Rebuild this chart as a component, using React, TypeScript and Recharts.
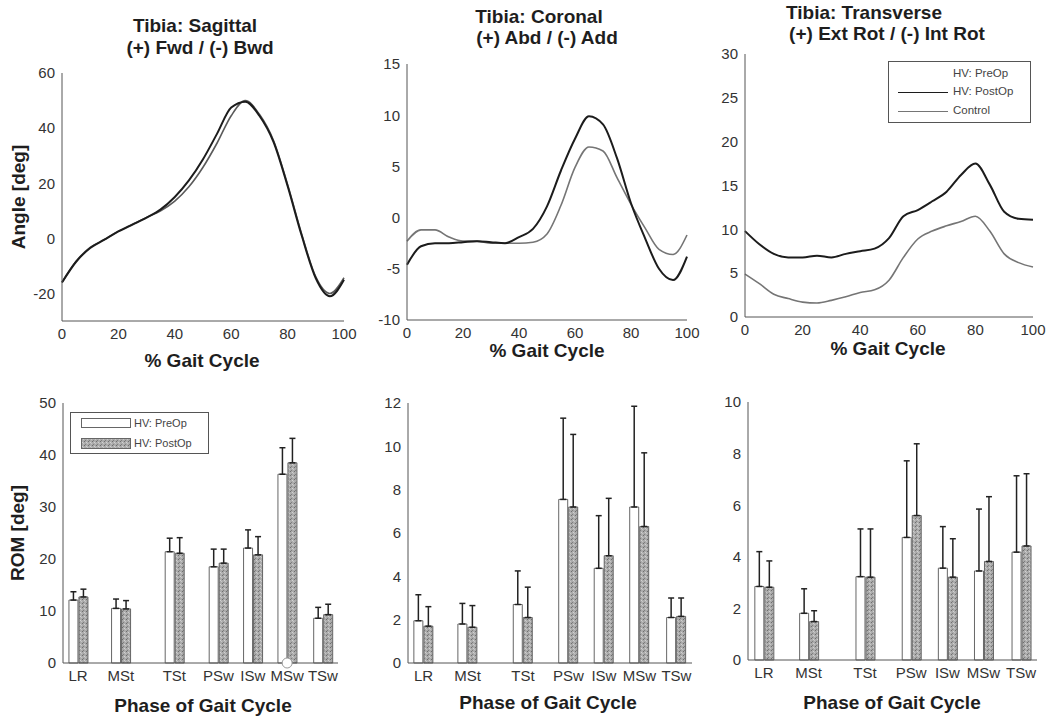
import React from 'react';
import { LineChart, Line, ComposedChart, Bar, ErrorBar, XAxis, YAxis, ReferenceDot } from 'recharts';

const FONT = '"Liberation Sans", Arial, Helvetica, sans-serif';

// % gait cycle sample points for the kinematic curves
const gaitPct = [0, 5, 10, 15, 20, 25, 30, 35, 40, 45, 50, 55, 60, 65, 70, 75, 80, 85, 90, 95, 100];

const sagittalPostOp = [-16, -8.5, -3.5, -0.5, 2.5, 5, 7.5, 10.5, 15, 21, 28.7, 38, 47.5, 49.6, 44.5, 35, 19, 1, -14.5, -21, -15];
const sagittalControl = [-16, -8.3, -3.3, -0.5, 2.6, 5.1, 7.6, 10, 13.5, 18.7, 25.8, 34.6, 44.5, 50, 45, 35.5, 19.5, 1.5, -14, -20, -14.3];
const coronalPostOp = [-4.6, -2.8, -2.5, -2.5, -2.4, -2.3, -2.4, -2.5, -1.9, -1.1, 1.1, 4.6, 7.7, 9.9, 9.1, 5.8, 1.4, -2, -5, -6.1, -3.8];
const coronalControl = [-2.3, -1.2, -1.2, -1.9, -2.3, -2.3, -2.5, -2.5, -2.5, -2.4, -1.6, 1.2, 4.9, 6.9, 6.5, 3.9, 1.3, -1, -3.1, -3.6, -1.7];
const transversePostOp = [9.8, 8.3, 7.2, 6.8, 6.8, 7.0, 6.8, 7.2, 7.5, 7.8, 9.0, 11.5, 12.2, 13.2, 14.3, 16.2, 17.5, 15.1, 12.0, 11.2, 11.1];
const transverseControl = [4.9, 3.8, 2.6, 2.1, 1.7, 1.6, 1.9, 2.3, 2.8, 3.1, 4.2, 6.8, 8.9, 9.8, 10.4, 10.9, 11.5, 9.8, 7.2, 6.2, 5.7];

// phases of gait, placed at their mid % of the cycle
const phases = ['LR', 'MSt', 'TSt', 'PSw', 'ISw', 'MSw', 'TSw'];
const phasePos = [5.5, 21, 40.5, 56.5, 69, 81.5, 94.5];

// ROM per phase (mean, sd)
const sagPre = [12.1, 10.5, 21.4, 18.5, 22.1, 36.3, 8.6];
const sagPreSd = [1.6, 1.8, 2.6, 3.4, 3.5, 5.1, 2.1];
const sagPost = [12.7, 10.4, 21.1, 19.2, 20.8, 38.5, 9.3];
const sagPostSd = [1.5, 1.6, 3.0, 2.7, 3.5, 4.7, 2.0];
const sagMarked = ['MSw'];

const corPre = [1.95, 1.8, 2.7, 7.55, 4.37, 7.2, 2.1];
const corPreSd = [1.2, 0.95, 1.55, 3.75, 2.43, 4.65, 0.9];
const corPost = [1.7, 1.65, 2.1, 7.2, 4.95, 6.3, 2.15];
const corPostSd = [0.9, 1.0, 1.4, 3.35, 2.65, 3.4, 0.85];

const traPre = [2.85, 1.81, 3.23, 4.75, 3.56, 3.45, 4.18];
const traPreSd = [1.35, 0.95, 1.85, 2.97, 1.61, 2.4, 2.96];
const traPost = [2.82, 1.49, 3.21, 5.6, 3.21, 3.82, 4.42];
const traPostSd = [1.02, 0.42, 1.87, 2.78, 1.49, 2.51, 2.8];

type Box = { L: number; T: number; R: number; B: number };
const PAD = { left: 45, top: 8, right: 16, bottom: 32 };

const frame = (b: Box) => ({
  style: { position: 'absolute' as const, left: b.L - PAD.left, top: b.T - PAD.top },
  width: b.R - b.L + PAD.left + PAD.right,
  height: b.B - b.T + PAD.top + PAD.bottom,
});

const axisProps = {
  tickLine: false,
  axisLine: { stroke: '#555', strokeWidth: 1 },
  tick: { fill: '#333', fontSize: 15, fontFamily: FONT },
  tickSize: 4,
  tickMargin: 3,
  interval: 0 as const,
};

const Speckle = ({ id }: { id: string }) => (
  <pattern id={id} width="4" height="4" patternUnits="userSpaceOnUse">
    <rect width="4" height="4" fill="#ababab" />
    <rect x="0" y="0" width="1" height="1" fill="#6e6e6e" />
    <rect x="2" y="1" width="1" height="1" fill="#d2d2d2" />
    <rect x="1" y="3" width="1" height="1" fill="#7e7e7e" />
    <rect x="3" y="2" width="1" height="1" fill="#c6c6c6" />
  </pattern>
);

const LinePanel: React.FC<{ box: Box; post: number[]; control: number[]; domain: [number, number]; ticks: number[]; controlColor: string }> = ({ box, post, control, domain, ticks, controlColor }) => {
  const f = frame(box);
  const rows = gaitPct.map((x, i) => ({ x, post: post[i], control: control[i] }));
  return (
    <div style={f.style}>
      <LineChart width={f.width} height={f.height} data={rows} margin={{ top: PAD.top, right: PAD.right, bottom: 0, left: 0 }}>
        <XAxis type="number" dataKey="x" domain={[0, 100]} ticks={[0, 20, 40, 60, 80, 100]} height={PAD.bottom} {...axisProps} />
        <YAxis type="number" domain={domain} ticks={ticks} width={PAD.left} {...axisProps} />
        <Line dataKey="control" type="monotone" stroke={controlColor} strokeWidth={1.6} dot={false} isAnimationActive={false} />
        <Line dataKey="post" type="monotone" stroke="#1c1c1c" strokeWidth={2} dot={false} isAnimationActive={false} />
      </LineChart>
    </div>
  );
};

const BarPanel: React.FC<{ id: string; box: Box; pre: number[]; preSd: number[]; post: number[]; postSd: number[]; domain: [number, number]; ticks: number[]; marked?: string[] }> = ({ id, box, pre, preSd, post, postSd, domain, ticks, marked = [] }) => {
  const f = frame(box);
  const rows = phases.map((p, i) => ({ x: phasePos[i], pre: pre[i], preErr: [0, preSd[i]], post: post[i], postErr: [0, postSd[i]] }));
  return (
    <div style={f.style}>
      <ComposedChart width={f.width} height={f.height} data={rows} barSize={9} barGap={1} margin={{ top: PAD.top, right: PAD.right, bottom: 0, left: 0 }}>
        <defs>
          <Speckle id={id} />
        </defs>
        <XAxis type="number" dataKey="x" domain={[0, 100]} ticks={phasePos} tickFormatter={(v: number) => phases[phasePos.indexOf(v)]} height={PAD.bottom} {...axisProps} />
        <YAxis type="number" domain={domain} ticks={ticks} width={PAD.left} {...axisProps} />
        <Bar dataKey="pre" fill="#ffffff" stroke="#666" strokeWidth={1} isAnimationActive={false}>
          <ErrorBar dataKey="preErr" direction="y" width={3} stroke="#222" strokeWidth={1.5} />
        </Bar>
        <Bar dataKey="post" fill={`url(#${id})`} stroke="#666" strokeWidth={1} isAnimationActive={false}>
          <ErrorBar dataKey="postErr" direction="y" width={3} stroke="#222" strokeWidth={1.5} />
        </Bar>
        {marked.map((p) => (
          <ReferenceDot key={p} x={phasePos[phases.indexOf(p)]} y={0} r={5} fill="#fff" stroke="#999" ifOverflow="visible" />
        ))}
      </ComposedChart>
    </div>
  );
};

const Txt: React.FC<{ x: number; y: number; size?: number; bold?: boolean; rotate?: boolean; children: React.ReactNode }> = ({ x, y, size = 19, bold = true, rotate = false, children }) => (
  <div
    style={{
      position: 'absolute',
      left: x,
      top: y,
      transform: `translate(-50%, -50%)${rotate ? ' rotate(-90deg)' : ''}`,
      whiteSpace: 'nowrap',
      fontFamily: FONT,
      fontSize: size,
      fontWeight: bold ? 700 : 400,
      color: '#1e1e1e',
      lineHeight: 1,
    }}
  >
    {children}
  </div>
);

const legendText: React.CSSProperties = { position: 'absolute', fontFamily: FONT, fontSize: 11.5, color: '#444', lineHeight: 1, whiteSpace: 'nowrap' };

const App: React.FC = () => (
  <div style={{ position: 'absolute', left: 0, top: 0, width: 1050, height: 725, background: '#fff', overflow: 'hidden' }}>
    {/* top row: kinematic curves */}
    <LinePanel box={{ L: 62, T: 73, R: 344, B: 321 }} post={sagittalPostOp} control={sagittalControl} domain={[-30, 60]} ticks={[-20, 0, 20, 40, 60]} controlColor="#5a5a5a" />
    <LinePanel box={{ L: 407, T: 64, R: 687, B: 320 }} post={coronalPostOp} control={coronalControl} domain={[-10, 15]} ticks={[-10, -5, 0, 5, 10, 15]} controlColor="#757575" />
    <LinePanel box={{ L: 745, T: 54, R: 1033, B: 317 }} post={transversePostOp} control={transverseControl} domain={[0, 30]} ticks={[0, 5, 10, 15, 20, 25, 30]} controlColor="#757575" />

    {/* bottom row: ROM per phase */}
    <BarPanel id="spk-sag" box={{ L: 63, T: 403, R: 338, B: 663 }} pre={sagPre} preSd={sagPreSd} post={sagPost} postSd={sagPostSd} domain={[0, 50]} ticks={[0, 10, 20, 30, 40, 50]} marked={sagMarked} />
    <BarPanel id="spk-cor" box={{ L: 408, T: 403, R: 692, B: 663 }} pre={corPre} preSd={corPreSd} post={corPost} postSd={corPostSd} domain={[0, 12]} ticks={[0, 2, 4, 6, 8, 10, 12]} />
    <BarPanel id="spk-tra" box={{ L: 748, T: 402, R: 1037, B: 660 }} pre={traPre} preSd={traPreSd} post={traPost} postSd={traPostSd} domain={[0, 10]} ticks={[0, 2, 4, 6, 8, 10]} />

    {/* titles */}
    <Txt x={195} y={25}>Tibia: Sagittal</Txt>
    <Txt x={200} y={47}>(+) Fwd / (-) Bwd</Txt>
    <Txt x={539} y={16}>Tibia: Coronal</Txt>
    <Txt x={547} y={37}>(+) Abd / (-) Add</Txt>
    <Txt x={864} y={12}>Tibia: Transverse</Txt>
    <Txt x={887} y={33}>(+) Ext Rot / (-) Int Rot</Txt>

    {/* axis titles */}
    <Txt x={202} y={360}>% Gait Cycle</Txt>
    <Txt x={547} y={350}>% Gait Cycle</Txt>
    <Txt x={888} y={348}>% Gait Cycle</Txt>
    <Txt x={203} y={705}>Phase of Gait Cycle</Txt>
    <Txt x={548} y={702}>Phase of Gait Cycle</Txt>
    <Txt x={892} y={702}>Phase of Gait Cycle</Txt>
    <Txt x={18} y={197} rotate>Angle [deg]</Txt>
    <Txt x={17} y={533} rotate>ROM [deg]</Txt>

    {/* legend: curves */}
    <div style={{ position: 'absolute', left: 888, top: 61, width: 141, height: 60, border: '1px solid #555', background: '#fff' }}>
      <div style={{ ...legendText, left: 64, top: 6 }}>HV: PreOp</div>
      <div style={{ position: 'absolute', left: 9, top: 30, width: 50, height: 0, borderTop: '1.5px solid #1c1c1c' }} />
      <div style={{ ...legendText, left: 64, top: 24 }}>HV: PostOp</div>
      <div style={{ position: 'absolute', left: 9, top: 49, width: 50, height: 0, borderTop: '1.5px solid #757575' }} />
      <div style={{ ...legendText, left: 64, top: 43 }}>Control</div>
    </div>

    {/* legend: bars */}
    <div style={{ position: 'absolute', left: 70, top: 412, width: 137, height: 40, border: '1px solid #555', background: '#fff' }}>
      <svg width={52} height={40} style={{ position: 'absolute', left: 9, top: 0 }}>
        <defs>
          <Speckle id="spk-legend" />
        </defs>
        <rect x={1.5} y={5.5} width={49} height={9} fill="#fff" stroke="#666" />
        <rect x={1.5} y={25.5} width={49} height={10} fill="url(#spk-legend)" stroke="#666" />
      </svg>
      <div style={{ ...legendText, fontSize: 11, left: 63, top: 5 }}>HV: PreOp</div>
      <div style={{ ...legendText, fontSize: 11, left: 63, top: 25 }}>HV: PostOp</div>
    </div>
  </div>
);

export default App;
